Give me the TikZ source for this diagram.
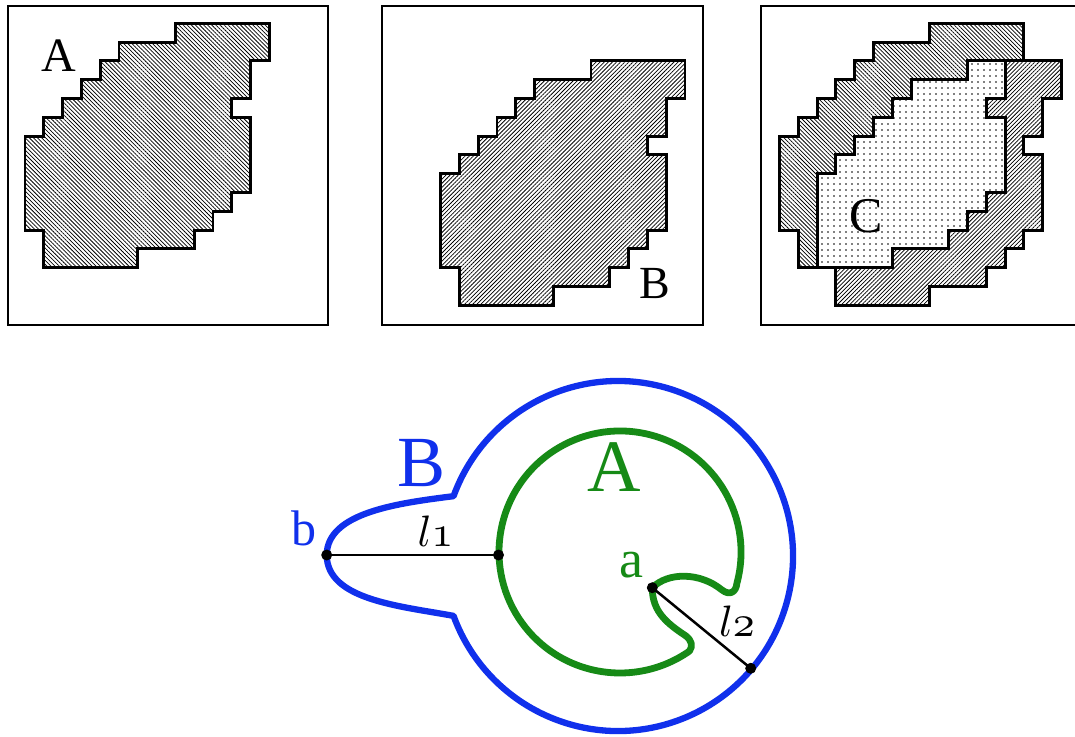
\documentclass[tikz,border=0pt]{standalone}
\usepackage{fontspec}
\newfontfamily\tms{Liberation Serif}
\usetikzlibrary{patterns.meta}
\definecolor{bblue}{RGB}{16,48,236}
\definecolor{ggreen}{RGB}{22,138,22}
\newcommand\shapeA{(8,0) -- (13,0) -- (13,2) -- (12,2) -- (12,4) -- (11,4) -- (11,5) -- (12,5) -- (12,9) -- (11,9) -- (11,10) -- (10,10) -- (10,11) -- (9,11) -- (9,12) -- (6,12) -- (6,13) -- (1,13) -- (1,11) -- (0,11) -- (0,6) -- (1,6) -- (1,5) -- (2,5) -- (2,4) -- (3,4) -- (3,3) -- (4,3) -- (4,2) -- (5,2) -- (5,1) -- (8,1) -- cycle}
\tikzset{
  panel/.style={draw=black, line width=2pt},
  outl/.style={draw=black, line width=2.9pt, line join=miter},
  hatchA/.style={pattern={Lines[angle=-45,distance=2.9pt,line width=0.75pt]}, pattern color=black},
  hatchB/.style={pattern={Lines[angle=45,distance=2.9pt,line width=0.75pt]}, pattern color=black},
  dotsC/.style={pattern={Dots[distance=6pt,radius=0.95pt]}, pattern color=black},
  lab/.style={anchor=base, inner sep=0pt},
  blueline/.style={draw=bblue, line width=6.3pt, line join=round, line cap=round},
  greenline/.style={draw=ggreen, line width=6.8pt, line join=round, line cap=round},
  seg/.style={draw=black, line width=2.5pt},
  dot/.style={circle, fill=black, inner sep=0pt, minimum size=11pt}
}
\begin{document}
\begin{tikzpicture}[x=1pt,y=-1pt]
\useasboundingbox (0,0) rectangle (1075,736);
\clip (0,0) rectangle (1075,736);
\fill[white] (0,0) rectangle (1075,736);

% panel frames
\draw[panel] (7.5,6) rectangle (328,325);
\draw[panel] (382.3,6) rectangle (703.3,325);
\draw[panel] (760.7,6) rectangle (1085,325);

% panel 1 : A
\begin{scope}[xshift=25pt,yshift=-23.3pt,x=18.8pt,y=-18.8pt]
  \fill[white] \shapeA;
  \path[hatchA] \shapeA;
  \draw[outl] \shapeA;
\end{scope}

% panel 2 : B
\begin{scope}[xshift=403pt,yshift=-23.3pt,x=18.8pt,y=-18.8pt]
  \begin{scope}[shift={(2,2)}]
    \fill[white] \shapeA;
    \path[hatchB] \shapeA;
    \draw[outl] \shapeA;
  \end{scope}
\end{scope}

% panel 3 : C
\begin{scope}[xshift=779.5pt,yshift=-23.3pt,x=18.8pt,y=-18.8pt]
  \path[hatchA] \shapeA;
  \begin{scope}[shift={(2,2)}]
    \path[hatchB] \shapeA;
  \end{scope}
  \begin{scope}
    \clip \shapeA;
    \begin{scope}[shift={(2,2)}]
      \fill[white] \shapeA;
      \path[dotsC] \shapeA;
    \end{scope}
  \end{scope}
  \draw[outl] \shapeA;
  \begin{scope}[shift={(2,2)}]
    \draw[outl] \shapeA;
  \end{scope}
\end{scope}

% panel labels
\node[lab, font=\tms\fontsize{48}{48}\selectfont] (tA) at (59.2,71.7) {A};
\node[lab, font=\tms\fontsize{46}{46}\selectfont] (tB) at (655,298.3) {B};
\node[lab, font=\tms\fontsize{50}{50}\selectfont] (tC) at (865.8,232) {C};

% bottom figure: region B (blue)
\draw[blueline] (453.55,496.15) arc[start angle=-160, end angle=160, radius=175]
   .. controls (400,606) and (327,600) .. (326.7,555)
   .. controls (327,512) and (400,503) .. (453.55,496.15) -- cycle;

% region A (green)
\draw[greenline] (652.3,587.7) .. controls (668,572) and (700,572) .. (722,590)
   .. controls (730,596) and (736,592) .. (736.9,583.3)
   arc[start angle=15, end angle=-305, radius=121]
   .. controls (693,646) and (692,641) .. (686,636)
   .. controls (668,624) and (652,612) .. (652.3,587.7);

% points and segments
\coordinate (pb) at (326.7,555);
\coordinate (pg) at (498.5,555);
\coordinate (pa) at (652.3,587.7);
\coordinate (pc) at (750.7,668.3);
\draw[seg] (pb) -- (pg);
\draw[seg] (pa) -- (pc);
\node[dot] (b) at (pb) {};
\node[dot] (g) at (pg) {};
\node[dot] (a) at (pa) {};
\node[dot] (c) at (pc) {};

% labels of the bottom figure
\node[lab, text=bblue, font=\tms\fontsize{72}{72}\selectfont] (lB) at (421.7,486.7) {B};
\node[lab, text=ggreen, font=\tms\fontsize{74}{74}\selectfont] (lA) at (614.2,491.7) {A};
\node[lab, text=bblue, font=\tms\fontsize{50}{50}\selectfont] (lb) at (304,545) {b};
\node[lab, text=ggreen, font=\tms\fontsize{54}{54}\selectfont] (la) at (631.5,577) {a};
\node[lab, scale=4.4] (l1) at (435.5,546) {$l\mathnormal{1}$};
\node[lab, scale=4.4] (l2) at (737,636) {$l\mathnormal{2}$};
\end{tikzpicture}
\end{document}
